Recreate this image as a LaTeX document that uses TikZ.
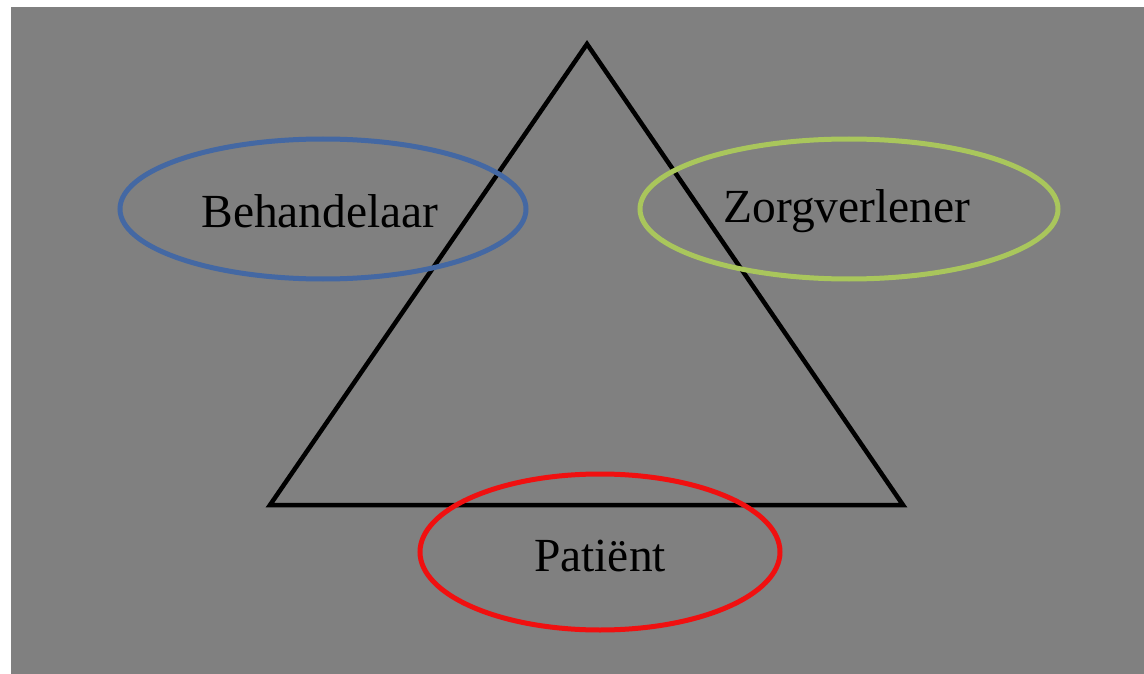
\documentclass[tikz,border=0pt]{standalone}
\usepackage{fontspec}
\setmainfont{Liberation Serif}
\usetikzlibrary{shapes.geometric}
\definecolor{bggray}{HTML}{808080}
\definecolor{blueell}{HTML}{4468A3}
\definecolor{greenell}{HTML}{A9C65C}
\definecolor{redell}{HTML}{F01010}
\tikzset{
  ell/.style={line width=5pt},
  lbl/.style={font=\fontsize{47.5}{56}\selectfont, text=black},
}
\begin{document}
\begin{tikzpicture}[x=1pt,y=-1pt]
\useasboundingbox (0,0) rectangle (1144,674);
\fill[white] (0,0) rectangle (1144,674);
\fill[bggray] (11,7) rectangle (1144,674);
\coordinate (apex) at (587,44);
\coordinate (bl) at (270,505);
\coordinate (br) at (903,505);
\draw[line width=4.5pt, line join=miter] (apex) -- (br) -- (bl) -- cycle;
\draw[ell, blueell] (323,209) ellipse [x radius=203, y radius=70];
\draw[ell, greenell] (849,209) ellipse [x radius=209, y radius=70];
\draw[ell, redell] (600,552) ellipse [x radius=180, y radius=78];
\node[lbl] (beh) at (320,211) {Behandelaar};
\node[lbl] (zorg) at (847,211) {Zorgverlener};
\node[lbl] (pat) at (600,556) {Patiënt};
\end{tikzpicture}
\end{document}
